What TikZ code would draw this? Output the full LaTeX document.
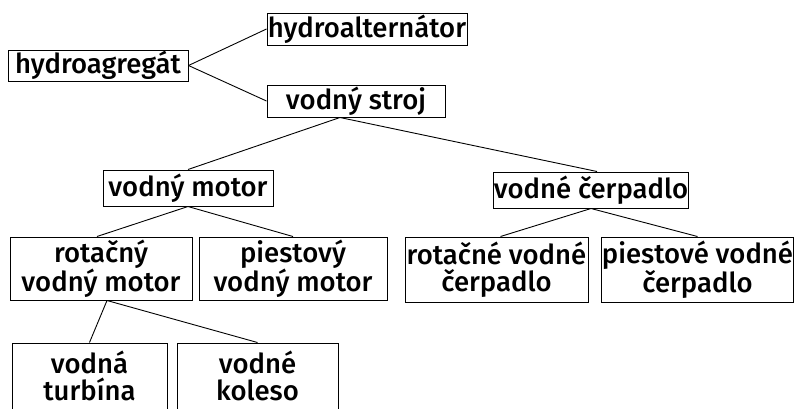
\documentclass[tikz,border=0pt]{standalone}
\usepackage{fontspec}
\setmainfont{Fira Sans Medium}
\begin{document}
\begin{tikzpicture}[x=1pt,y=-1pt,
  box/.style={draw,line width=1pt,inner sep=0pt,align=center,
    font=\fontsize{27.5}{26.5}\selectfont},
  link/.style={line width=0.9pt}]
\clip (0,0) rectangle (797,408);
\node[box,minimum width=180,minimum height=31] (agr) at (98,65.5) {hydroagregát};
\node[box,minimum width=200,minimum height=32] (alt) at (367,29) {hydroalternátor};
\node[box,minimum width=178,minimum height=32] (stroj) at (356,101) {vodný stroj};
\node[box,minimum width=170,minimum height=36] (motor) at (188,188) {vodný motor};
\node[box,minimum width=192,minimum height=36] (cerp) at (591,190) {vodné čerpadlo};
\node[box,minimum width=182,minimum height=63] (rmot) at (101,268.5) {rotačný\\vodný motor};
\node[box,minimum width=188,minimum height=63] (pmot) at (293,268.5) {piestový\\vodný motor};
\node[box,minimum width=183,minimum height=65] (rcerp) at (496.5,269.5) {rotačné vodné\\čerpadlo};
\node[box,minimum width=189,minimum height=65] (pcerp) at (697.5,269.5) {piestové vodné\\čerpadlo};
\node[box,minimum width=155,minimum height=66] (turb) at (89.5,376) {vodná\\turbína};
\node[box,minimum width=161,minimum height=66] (kol) at (257.5,376) {vodné\\koleso};
\draw[link] (agr.east) -- (alt.west);
\draw[link] (agr.east) -- (stroj.west);
\draw[link] ([xshift=-16pt]stroj.south) -- (motor.north);
\draw[link] ([xshift=-16pt]stroj.south) -- ([xshift=6pt]cerp.north);
\draw[link] (motor.south) -- ([xshift=-4pt]rmot.north);
\draw[link] (motor.south) -- (pmot.north);
\draw[link] (cerp.south) -- ([xshift=4pt]rcerp.north);
\draw[link] (cerp.south) -- (pcerp.north);
\draw[link] ([xshift=6pt]rmot.south) -- (turb.north);
\draw[link] ([xshift=6pt]rmot.south) -- (kol.north);
\end{tikzpicture}
\end{document}
